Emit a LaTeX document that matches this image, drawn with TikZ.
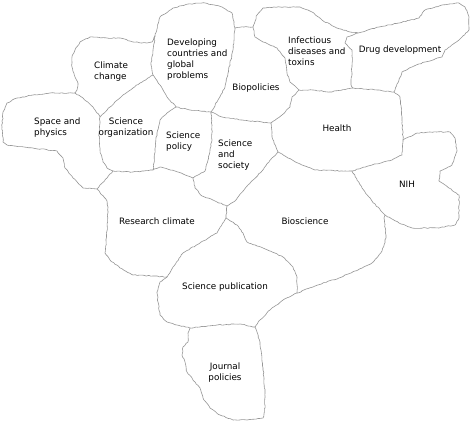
\documentclass[tikz,border=0pt]{standalone}
\usepackage{fontspec}
\setmainfont{DejaVu Sans}
\usetikzlibrary{decorations.pathmorphing}
\definecolor{edgegray}{RGB}{150,150,150}
\tikzset{
  border/.style={draw=edgegray, line width=0.6pt, line join=round,
    decorate, decoration={random steps, segment length=2.2pt, amplitude=0.45pt}},
  lbl/.style={inner sep=0pt, font=\fontsize{8.8}{11}\selectfont, text=black},
}
\begin{document}
\begin{tikzpicture}[x=1pt,y=-1pt]
\pgfmathsetseed{7}
\useasboundingbox (0,0) rectangle (472,422);
\fill[white] (0,0) rectangle (472,422);
% junctions
\coordinate (A) at (227,206);
\coordinate (B) at (226,218);
\coordinate (C) at (113,171);
\coordinate (D) at (97,189);
\coordinate (E) at (211,112);
\coordinate (F) at (176,107);
\coordinate (G) at (271,123);
\coordinate (H) at (299,90);
\coordinate (I) at (235,28);
\coordinate (J) at (253,27);
\coordinate (K) at (358,33);
\coordinate (L) at (353,88);
\coordinate (M) at (394,92);
\coordinate (N) at (403,140);
\coordinate (P) at (385,215);
\coordinate (Q) at (352,171);
\coordinate (R) at (278,152);
\coordinate (S) at (297,293);
\coordinate (T) at (255,327);
\coordinate (U) at (190,328);
\coordinate (V) at (167,277);
\coordinate (W) at (75,93);
\coordinate (X) at (100,117);
\coordinate (Y) at (155,36);
\coordinate (Z) at (153,75);
\coordinate (AA) at (153,170);
\coordinate (BB) at (193,178);
% borders
\draw[border] (W) -- (50,93) -- (33,95) -- (17,98) -- (7,103) -- (3,112) -- (2,127) -- (3,142) -- (7,145) -- (33,148) -- (57,151) -- (63,158) -- (65,168) -- (73,178) -- (83,188) -- (D);
\draw[border] (C) -- (107,178) -- (100,185) -- (D);
\draw[border] (D) -- (107,201) -- (108,211) -- (107,231) -- (105,253) -- (110,260) -- (120,268) -- (133,275) -- (153,276) -- (V);
\draw[border] (W) -- (83,98) -- (93,107) -- (X);
\draw[border] (X) -- (99,133) -- (100,150) -- (103,162) -- (107,168) -- (C);
\draw[border] (W) -- (77,90) -- (78,83) -- (75,77) -- (72,67) -- (72,57) -- (75,50) -- (80,42) -- (90,37) -- (107,38) -- (120,38) -- (133,42) -- (147,43) -- (152,42) -- (Y);
\draw[border] (Y) -- (153,50) -- (151,65) -- (Z);
\draw[border] (Z) -- (140,83) -- (123,95) -- (110,107) -- (X);
\draw[border] (Z) -- (160,85) -- (167,97) -- (F);
\draw[border] (Y) -- (160,17) -- (173,8) -- (188,4) -- (205,3) -- (222,7) -- (232,13) -- (I);
\draw[border] (I) -- (233,50) -- (228,73) -- (225,87) -- (218,100) -- (E);
\draw[border] (F) -- (190,110) -- (200,111) -- (E);
\draw[border] (F) -- (167,113) -- (160,120) -- (157,133) -- (155,150) -- (154,163) -- (AA);
\draw[border] (C) -- (133,172) -- (AA);
\draw[border] (AA) -- (160,167) -- (175,171) -- (188,176) -- (BB);
\draw[border] (E) -- (212,125) -- (212,140) -- (210,150) -- (208,160) -- (205,171) -- (BB);
\draw[border] (BB) -- (195,188) -- (202,196) -- (215,201) -- (A);
\draw[border] (A) -- (235,201) -- (248,185) -- (262,171) -- (272,158) -- (R);
\draw[border] (G) -- (272,137) -- (R);
\draw[border] (E) -- (222,117) -- (242,120) -- (262,122) -- (G);
\draw[border] (I) -- (244,27) -- (J);
\draw[border] (J) -- (255,37) -- (263,42) -- (277,48) -- (285,58) -- (287,73) -- (290,82) -- (H);
\draw[border] (H) -- (292,97) -- (290,107) -- (282,115) -- (G);
\draw[border] (J) -- (257,15) -- (263,8) -- (280,7) -- (300,7) -- (312,12) -- (322,20) -- (335,27) -- (350,32) -- (K);
\draw[border] (K) -- (347,37) -- (345,43) -- (352,50) -- (352,67) -- (351,85) -- (L);
\draw[border] (H) -- (313,90) -- (330,92) -- (L);
\draw[border] (L) -- (379,90) -- (M);
\draw[border] (K) -- (362,32) -- (379,27) -- (399,23) -- (419,18) -- (425,10) -- (442,5) -- (459,3) -- (465,7) -- (469,17) -- (469,30) -- (459,40) -- (445,50) -- (442,57) -- (425,62) -- (412,67) -- (402,72) -- (399,80) -- (395,90) -- (M);
\draw[border] (M) -- (400,97) -- (402,117) -- (N);
\draw[border] (N) -- (402,155) -- (392,160) -- (372,165) -- (Q);
\draw[border] (N) -- (417,133) -- (430,132) -- (450,132) -- (455,138) -- (457,151) -- (452,165) -- (440,171) -- (439,181) -- (449,188) -- (459,195) -- (459,218) -- (455,225) -- (439,228) -- (412,228) -- (399,223) -- (P);
\draw[border] (Q) -- (362,188) -- (372,201) -- (P);
\draw[border] (R) -- (288,158) -- (302,165) -- (315,170) -- (345,171) -- (Q);
\draw[border] (P) -- (384,218) -- (386,238) -- (382,251) -- (372,263) -- (355,271) -- (339,278) -- (323,283) -- (S);
\draw[border] (A) -- (B);
\draw[border] (B) -- (217,233) -- (200,243) -- (183,253) -- (173,267) -- (V);
\draw[border] (B) -- (237,225) -- (243,233) -- (247,242) -- (263,248) -- (283,257) -- (293,267) -- (297,277) -- (S);
\draw[border] (S) -- (283,300) -- (270,310) -- (260,320) -- (T);
\draw[border] (T) -- (240,324) -- (217,325) -- (200,327) -- (U);
\draw[border] (U) -- (177,325) -- (167,322) -- (160,315) -- (158,302) -- (157,292) -- (160,282) -- (V);
\draw[border] (U) -- (188,333) -- (188,342) -- (183,347) -- (182,355) -- (185,362) -- (187,372) -- (195,382) -- (200,388) -- (203,398) -- (210,408) -- (220,415) -- (233,420) -- (247,420) -- (263,418) -- (265,408) -- (265,392) -- (263,368) -- (260,342) -- (257,332) -- (T);
% labels
\node[lbl, anchor=west, align=left] (climate) at (94,71.5) {Climate\\change};
\node[lbl, anchor=west, align=left] (developing) at (167,60) {Developing\\countries and\\global\\problems};
\node[lbl] (biopol) at (256,88) {Biopolicies};
\node[lbl, anchor=west, align=left] (infect) at (288,51) {Infectious\\diseases and\\toxins};
\node[lbl] (drug) at (400,50) {Drug development};
\node[lbl, anchor=west, align=left] (space) at (34,127.5) {Space and\\physics};
\node[lbl, align=center] (sciorg) at (126,127.5) {Science\\organization};
\node[lbl, anchor=west, align=left] (scipol) at (166,141.5) {Science\\policy};
\node[lbl, anchor=west, align=left] (scisoc) at (218,155) {Science\\and\\society};
\node[lbl] (health) at (337,128) {Health};
\node[lbl] (nih) at (407,184) {NIH};
\node[lbl] (research) at (157,221) {Research climate};
\node[lbl] (bio) at (305,221) {Bioscience};
\node[lbl] (scipub) at (225,287) {Science publication};
\node[lbl, align=center] (journal) at (225,372.5) {Journal\\policies};
\end{tikzpicture}
\end{document}
